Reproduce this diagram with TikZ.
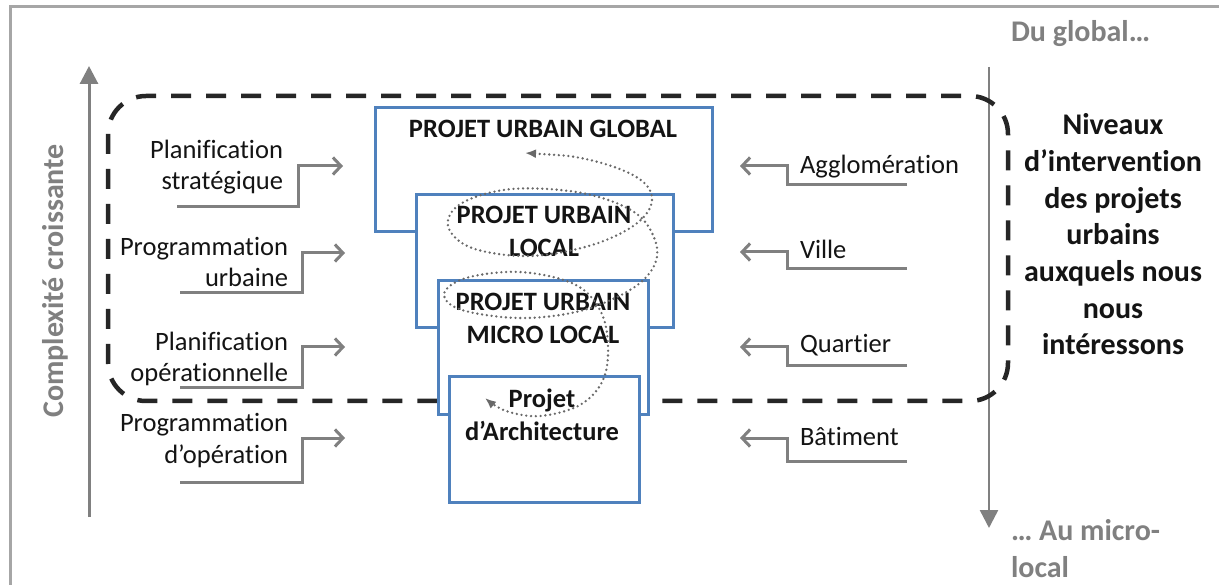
\documentclass[tikz,border=0pt]{standalone}
\usepackage{fontspec}
\setmainfont{Carlito}[Ligatures=NoCommon]
\usetikzlibrary{arrows.meta}
\definecolor{axisgray}{RGB}{128,128,128}
\definecolor{framegray}{RGB}{166,166,166}
\definecolor{boxblue}{RGB}{79,129,189}
\definecolor{dashblack}{RGB}{38,38,38}
\definecolor{txtgray}{RGB}{128,128,128}
\definecolor{txtblack}{RGB}{20,20,20}
\definecolor{spiralgray}{RGB}{105,105,105}
\begin{document}
\begin{tikzpicture}[x=1pt,y=-1pt,
  axisarrow/.style={axisgray,line width=3pt,-{Triangle[length=18pt,width=18pt]}},
  conn/.style={axisgray,line width=3pt,-{Straight Barb[length=8pt,width=17pt,line width=3pt]}},
  lbl/.style={inner sep=0pt,outer sep=0pt,font=\fontsize{26.5}{31.5}\selectfont,text=txtblack},
  projbox/.style={draw=boxblue,fill=white,line width=3pt,inner sep=0pt,outer sep=0pt,anchor=north west},
  boxtxt/.style={inner sep=0pt,outer sep=0pt,align=center,anchor=base,font=\bfseries\fontsize{26.5}{33}\selectfont,text=txtblack},
  graytxt/.style={inner sep=0pt,outer sep=0pt,font=\bfseries\fontsize{30}{37}\selectfont,text=txtgray},
  dashbox/.style={dashblack,line width=4.5pt,dash pattern=on 20pt off 15pt,rounded corners=38pt},
  spiral/.style={spiralgray,line width=2.6pt,line cap=round,dash pattern=on 0pt off 4.8pt,{Latex[length=11pt,width=9pt]}-{Latex[length=11pt,width=9pt]}}
]
\useasboundingbox (0,0) rectangle (1219,585);
\fill[white] (0,0) rectangle (1219,585);
% frame
\draw[framegray,line width=3pt] (10,585) -- (10,7) -- (1219,7);

% axes
\coordinate (axLb) at (89,517);
\coordinate (axLt) at (89,66);
\draw[axisarrow] (axLb) -- (axLt);
\coordinate (axRt) at (989,67);
\coordinate (axRb) at (989,528);
\draw[axisarrow,line width=2.5pt] (axRt) -- (axRb);

% dashed group
\draw[dashbox] (108,96) rectangle (1008,401);

% project boxes
\node[projbox,minimum width=337pt,minimum height=124pt] (b1) at (375,108) {};
\node[projbox,minimum width=257pt,minimum height=133pt] (b2) at (416,195) {};
\node[projbox,minimum width=210pt,minimum height=134pt] (b3) at (438,281) {};
\node[projbox,minimum width=190pt,minimum height=125pt] (b4) at (449,377) {};

\node[boxtxt] (t1) at (543,138) {PROJET URBAIN GLOBAL};
\node[boxtxt] (t2) at (544,257) {PROJET URBAIN\\LOCAL};
\node[boxtxt] (t3) at (543,344) {PROJET URBAIN\\MICRO LOCAL};
\node[boxtxt] (t4) at (542,440) {Projet\\d’Architecture};

% left labels
\node[lbl,align=right,anchor=base east] (l1) at (283,190) {Planification\\stratégique};
\node[lbl,align=right,anchor=base east] (l2) at (288,287) {Programmation\\urbaine};
\node[lbl,align=right,anchor=base east] (l3) at (288,382) {Planification\\opérationnelle};
\node[lbl,align=right,anchor=base east] (l4) at (288,463) {Programmation\\d’opération};

\coordinate (l1s) at (177,207); \coordinate (l1e) at (343,166);
\coordinate (l2s) at (180,293); \coordinate (l2e) at (345,253);
\coordinate (l3s) at (180,388); \coordinate (l3e) at (345,347);
\coordinate (l4s) at (180,482); \coordinate (l4e) at (345,438);
\draw[conn] (l1s) -- ++(121,0) |- (l1e);
\draw[conn] (l2s) -- ++(122,0) |- (l2e);
\draw[conn] (l3s) -- ++(122,0) |- (l3e);
\draw[conn] (l4s) -- ++(122,0) |- (l4e);

% right labels
\node[lbl,anchor=base west] (r1) at (800,174) {Agglomération};
\node[lbl,anchor=base west] (r2) at (800,259) {Ville};
\node[lbl,anchor=base west] (r3) at (800,353) {Quartier};
\node[lbl,anchor=base west] (r4) at (800,446) {Bâtiment};

\coordinate (r1s) at (907,185); \coordinate (r1e) at (740,166);
\coordinate (r2s) at (907,269); \coordinate (r2e) at (740,252);
\coordinate (r3s) at (907,366); \coordinate (r3e) at (740,347);
\coordinate (r4s) at (907,461); \coordinate (r4e) at (740,438);
\draw[conn] (r1s) -- ++(-120,0) |- (r1e);
\draw[conn] (r2s) -- ++(-120,0) |- (r2e);
\draw[conn] (r3s) -- ++(-120,0) |- (r3e);
\draw[conn] (r4s) -- ++(-120,0) |- (r4e);

% right texts
\node[inner sep=0pt,outer sep=0pt,align=center,anchor=base,font=\bfseries\fontsize{30}{36.7}\selectfont,text=txtblack] (niv) at (1113,355)
  {Niveaux\\d’intervention\\des projets\\urbains\\auxquels nous\\nous\\intéressons};
\node[graytxt,anchor=base west] (glob) at (1011,42) {Du global…};
\node[graytxt,align=left,anchor=base west] (micro) at (1011,577) {… Au micro-\\local};
\node[graytxt,rotate=90,anchor=base] (cplx) at (63,281) {Complexité croissante};

% spiral
\draw[spiral] plot[smooth,tension=0.6] coordinates {
 (525,153) (590,160) (638,178) (652,200) (636,224) (592,245) (530,256) (472,248)
 (448,226) (462,203) (512,189) (582,193) (634,212) (655,240) (654,266) (630,290)
 (580,311) (520,318) (462,310) (444,294) (466,278) (520,272) (574,284) (600,310)
 (608,345) (603,380) (580,405) (540,416) (506,411) (485,398)};
\end{tikzpicture}
\end{document}
